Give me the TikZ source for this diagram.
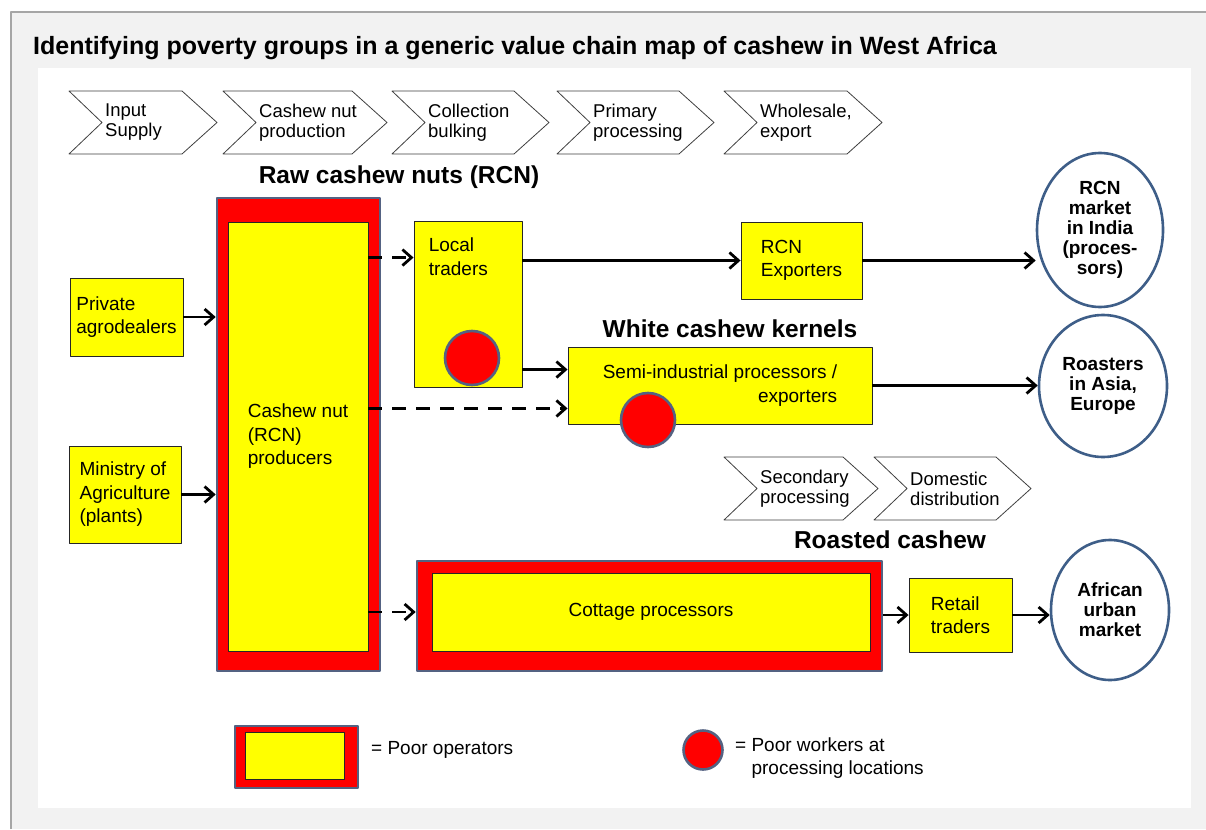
\documentclass[tikz,border=0pt]{standalone}
\usepackage{fontspec}
\setmainfont{Liberation Sans}
\usetikzlibrary{shapes.geometric,arrows.meta,positioning}

\begin{document}
\begin{tikzpicture}[x=1pt,y=-1pt,line join=round,
  opbox/.style={draw=black!85,line width=0.9pt,fill=cyel,inner sep=0pt,align=left,font=\fontsize{19}{23.5}\selectfont},
  poorframe/.style={draw=framec,line width=2.6pt,fill=cred,inner sep=0pt},
  worker/.style={circle,draw=framec,line width=2.6pt,fill=cred,minimum size=54pt,inner sep=0pt},
  market/.style={ellipse,draw=mktc,line width=2.6pt,fill=white,inner sep=0pt,align=center,font=\bfseries\fontsize{19}{20}\selectfont},
  head/.style={font=\bfseries\fontsize{24.5}{28}\selectfont},
  stage/.style={draw=black!75,line width=0.8pt},
  stagetxt/.style={align=left,inner sep=0pt,font=\fontsize{18.5}{20}\selectfont},
  flow/.style={line width=2.8pt,-{Straight Barb[length=9pt,width=16pt]}},
  dflow/.style={flow,dash pattern=on 14pt off 10pt}]
\definecolor{cyel}{RGB}{255,255,0}\definecolor{cred}{RGB}{255,0,0}
\definecolor{framec}{RGB}{84,98,130}\definecolor{mktc}{RGB}{62,94,136}
\definecolor{panelc}{RGB}{242,242,242}\definecolor{edgec}{RGB}{166,166,166}
\useasboundingbox (0,0) rectangle (1206,829);
% panel and white drawing area
\fill[panelc] (11,12) rectangle (1206,829);
\draw[edgec,line width=2pt] (11,829) -- (11,12) -- (1206,12);
\fill[white] (38,68) rectangle (1191,808);
\node[anchor=base west,inner sep=0pt,font=\bfseries\fontsize{25}{29}\selectfont] (title) at (33,55)
  {Identifying poverty groups in a generic value chain map of cashew in West Africa};
% stages of the chain
\foreach \i/\xa/\xb/\txt in {1/69/217/{Input\\Supply},2/223/387/{Cashew nut\\production},
    3/392/549/{Collection\\bulking},4/557/714/{Primary\\processing},5/724/882/{Wholesale,\\export}}{
  \draw[stage] (\xa,91) -- (\xb-35,91) -- (\xb,122.5) -- (\xb-35,154) -- (\xa,154) -- (\xa+33,122.5) -- cycle;
  \node[stagetxt,anchor=west] (st\i) at (\xa+36,122.5) {\txt};}
\foreach \i/\xa/\xb/\txt in {6/724/878/{Secondary\\processing},7/874/1031/{Domestic\\distribution}}{
  \draw[stage] (\xa,457) -- (\xb-35,457) -- (\xb,488.5) -- (\xb-35,520) -- (\xa,520) -- (\xa+33,488.5) -- cycle;
  \node[stagetxt,anchor=west] (st\i) at (\xa+36,488.5) {\txt};}
\node[head] (rawhd) at (399,177) {Raw cashew nuts (RCN)};
\node[head] (whitehd) at (730,329) {White cashew kernels};
\node[head] (roasthd) at (890,540) {Roasted cashew};
% operators
\node[opbox,minimum width=113pt,minimum height=78pt] (priv) at (126.5,317) {Private\\agrodealers};
\node[opbox,minimum width=112pt,minimum height=97pt] (mini) at (125,494.5) {Ministry of\\Agriculture\\(plants)};
\node[poorframe,minimum width=163pt,minimum height=473pt] (prodout) at (298.5,434.5) {};
\node[opbox,minimum width=140pt,minimum height=429pt] (prod) at (298,436.5) {Cashew nut\\(RCN)\\producers};
\node[opbox,minimum width=108pt,minimum height=166pt] (local) at (468,304) {};
\node[anchor=north west,align=left,inner sep=0pt,font=\fontsize{19}{23.5}\selectfont] (localtxt)
  at ([xshift=15pt,yshift=-17pt]local.north west) {Local\\traders};
\node[opbox,minimum width=121pt,minimum height=77pt] (rcnexp) at (801.5,260.5) {RCN\\Exporters};
\node[opbox,align=right,minimum width=304pt,minimum height=77pt] (semi) at (720,385.5)
  {Semi-industrial processors /\\exporters};
\node[poorframe,minimum width=465pt,minimum height=110pt] (cotout) at (649.5,616) {};
\node[opbox,minimum width=438pt,minimum height=78pt] (cot) at (651,612) {Cottage processors};
\node[opbox,minimum width=103pt,minimum height=74pt] (retail) at (960.5,615) {Retail\\traders};
\node[worker] (localdot) at (472,358) {};
\node[worker] (semidot) at (648,420) {};
% end markets
\node[market,minimum width=126pt,minimum height=154pt] (india) at (1100,230) {RCN\\market\\in India\\(proces-\\sors)};
\node[market,minimum width=128pt,minimum height=142pt] (roast) at (1103,386) {Roasters\\in Asia,\\Europe};
\node[market,minimum width=118pt,minimum height=140pt] (afr) at (1110,610) {African\\urban\\market};
% flows
\coordinate (lin) at ([yshift=-37pt]local.north west);
\coordinate (lsemi) at ([yshift=-23pt]semi.north west);
\coordinate (psemi) at ([yshift=16pt]semi.south west);
\draw[flow] (priv.east) -- (priv -| prodout.west);
\draw[flow] (mini.east) -- (mini -| prodout.west);
\draw[dflow] (prod.east |- lin) -- (lin);
\draw[dflow] (prod.east |- psemi) -- (psemi);
\draw[dflow] (prod.east |- cot) -- (cotout.west |- cot);
\draw[flow] (local.east |- rcnexp) -- (rcnexp.west);
\draw[flow] (rcnexp.east) -- (rcnexp -| india.west);
\draw[flow] (local.east |- lsemi) -- (lsemi);
\draw[flow] (semi.east) -- (semi -| roast.west);
\draw[flow] (cotout.east |- retail) -- (retail.west);
\draw[flow] (retail.east) -- (retail -| afr.west);
% legend
\node[poorframe,minimum width=123pt,minimum height=62pt] (legfr) at (296.5,757) {};
\node[opbox,minimum width=99pt,minimum height=47pt] (legbox) at (294.5,755.5) {};
\node[anchor=west,inner sep=0pt,font=\fontsize{19}{23}\selectfont] (legop) at (371,750) {= Poor operators};
\node[worker,minimum size=39pt] (legdot) at (703,750) {};
\node[anchor=west,align=left,inner sep=0pt,font=\fontsize{19}{23}\selectfont] (legwk) at (735,758.5)
  {= Poor workers at\\\phantom{= }processing locations};
\end{tikzpicture}
\end{document}
